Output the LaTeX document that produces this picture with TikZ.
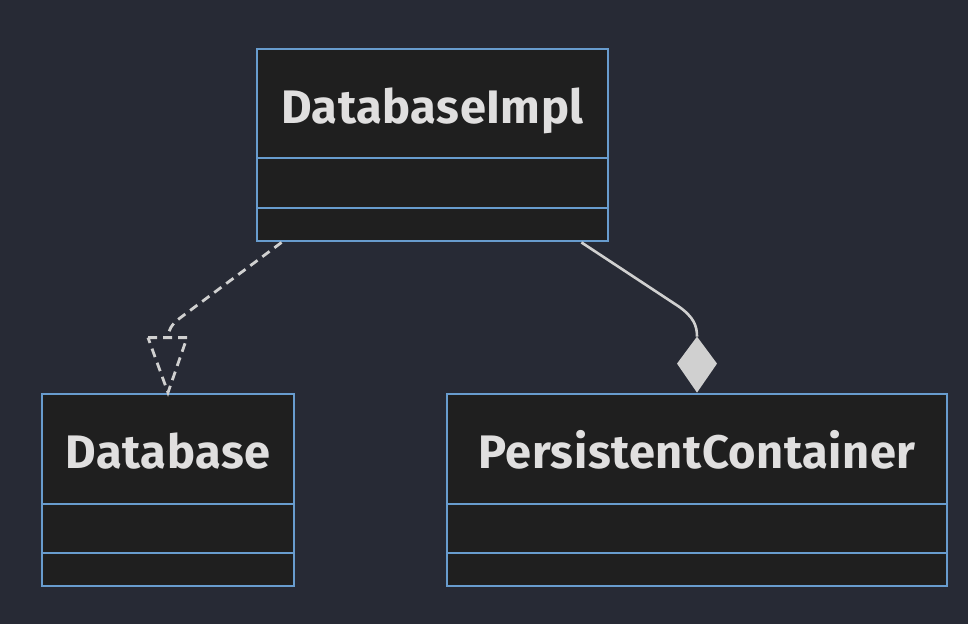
\documentclass[tikz,border=0pt]{standalone}
\usepackage{fontspec}
\setmainfont{Fira Sans}[LetterSpace=1.2]
\usetikzlibrary{calc}
\definecolor{bg}{RGB}{39,42,53}
\definecolor{boxfill}{RGB}{31,31,31}
\definecolor{boxline}{RGB}{104,156,206}
\definecolor{edge}{RGB}{208,208,208}
\definecolor{txt}{RGB}{224,223,223}
\tikzset{
  classbox/.style={draw=boxline, fill=boxfill, line width=2.8pt, inner sep=0pt, rectangle},
  divider/.style={draw=boxline, line width=2.8pt},
  title/.style={text=txt, anchor=base, inner sep=0pt, font=\fontsize{47}{52}\selectfont\bfseries},
  conn/.style={draw=edge, line width=2.6pt},
  dashconn/.style={draw=edge, line width=2.8pt, dash pattern=on 9pt off 6pt},
}
\begin{document}
\begin{tikzpicture}[x=1pt,y=-1pt]
\fill[bg] (0,0) rectangle (968,624);
\useasboundingbox (0,0) rectangle (968,624);

% DatabaseImpl
\node[classbox, minimum width=351pt, minimum height=192pt] (impl) at (432.5,145) {};
\draw[divider] (257,158) -- (608,158);
\draw[divider] (257,208) -- (608,208);
\node[title] (implt) at (432.5,123) {DatabaseImpl};

% Database
\node[classbox, minimum width=252pt, minimum height=192pt] (db) at (168,490) {};
\draw[divider] (42,504) -- (294,504);
\draw[divider] (42,553) -- (294,553);
\node[title] (dbt) at (168,468) {Database};

% PersistentContainer
\node[classbox, minimum width=500pt, minimum height=192pt] (pc) at (697,490) {};
\draw[divider] (447,504) -- (947,504);
\draw[divider] (447,553) -- (947,553);
\node[title] (pct) at (697,468) {PersistentContainer};

% realization: DatabaseImpl -> Database
\coordinate (r1) at ($(impl.south west)+(26,0)$);
\coordinate (rbase) at ($(db.north)+(0,-55)$);
\draw[dashconn] (r1) -- (180,318) .. controls (172,324) and (168,330) .. (rbase);
\draw[dashconn, line join=miter] ($(rbase)+(-20,0)$) -- ($(rbase)+(19,0)$) -- (db.north) -- cycle;

% composition: DatabaseImpl -> PersistentContainer
\coordinate (c1) at ($(impl.south east)+(-28,0)$);
\coordinate (dtop) at ($(pc.north)+(0,-56)$);
\draw[conn] (c1) -- (678,306) .. controls (694,317) and (697,326) .. (dtop);
\fill[edge] (dtop) -- ($(dtop)+(20,27)$) -- (pc.north) -- ($(dtop)+(-20,27)$) -- cycle;
\end{tikzpicture}
\end{document}
